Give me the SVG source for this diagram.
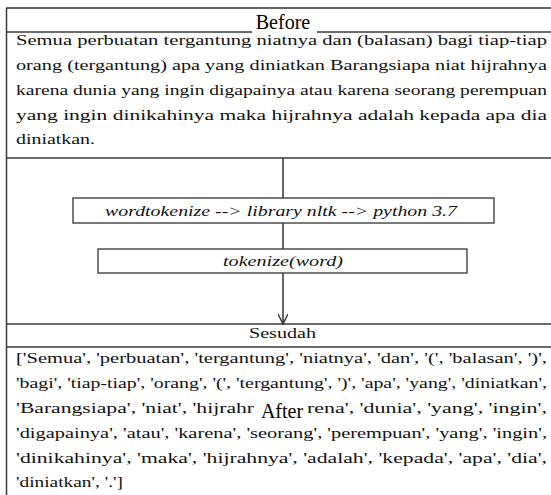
<svg xmlns="http://www.w3.org/2000/svg" width="551" height="495" viewBox="0 0 551 495">
<style>
.rule{stroke:#3a3a3a;stroke-width:1.5;fill:none}
.box{fill:#fff;stroke:#333;stroke-width:1.3}
.body{font-family:"Liberation Serif","Times New Roman",serif;font-size:15px;fill:#111}
.it{font-family:"Liberation Serif","Times New Roman",serif;font-size:15px;font-style:italic;fill:#111}
.lbl{font-family:"Liberation Serif","Times New Roman",serif;font-size:20px;fill:#000}
.conn{stroke:#333;stroke-width:1.5;fill:none}
</style>
<defs>
<marker id="arr" viewBox="0 0 12 10" refX="11" refY="5" markerWidth="12" markerHeight="10" markerUnits="userSpaceOnUse" orient="auto">
<path d="M1,0 L11,5 L1,10" fill="none" stroke="#333" stroke-width="1.4"/>
</marker>
</defs>
<rect width="551" height="495" fill="#fff"/>

<g id="table-frame">
<line x1="6" y1="8" x2="551" y2="8" stroke="#666" stroke-width="2"/>
<line class="rule" x1="6.5" y1="8" x2="6.5" y2="495"/>
<line class="rule" x1="6" y1="32" x2="252" y2="32"/>
<line class="rule" x1="317" y1="32" x2="551" y2="32"/>
<line class="rule" x1="6" y1="158" x2="551" y2="158"/>
<line class="rule" x1="6" y1="324" x2="551" y2="324"/>
<line class="rule" x1="6" y1="347" x2="551" y2="347"/>
</g>

<g id="before-label">
<text class="lbl" x="283" y="29" text-anchor="middle">Before</text>
</g>

<g id="before-text">
<text class="body" x="16" y="45" textLength="531" lengthAdjust="spacingAndGlyphs">Semua perbuatan tergantung niatnya dan (balasan) bagi tiap-tiap</text>
<text class="body" x="16" y="70" textLength="531" lengthAdjust="spacingAndGlyphs">orang (tergantung) apa yang diniatkan Barangsiapa niat hijrahnya</text>
<text class="body" x="16" y="95" textLength="531" lengthAdjust="spacingAndGlyphs">karena dunia yang ingin digapainya atau karena seorang perempuan</text>
<text class="body" x="16" y="119.5" textLength="531" lengthAdjust="spacingAndGlyphs">yang ingin dinikahinya maka hijrahnya adalah kepada apa dia</text>
<text class="body" x="16" y="144" textLength="79" lengthAdjust="spacingAndGlyphs">diniatkan.</text>
</g>

<g id="connectors">
<line class="conn" x1="283" y1="158" x2="283" y2="198"/>
<line class="conn" x1="283" y1="223" x2="283" y2="249"/>
<line class="conn" x1="283" y1="273" x2="283" y2="324" marker-end="url(#arr)"/>
</g>

<g id="node-wordtokenize">
<rect class="box" x="73" y="198" width="421" height="25"/>
<text class="it" x="105" y="215.5" textLength="352" lengthAdjust="spacingAndGlyphs">wordtokenize --&gt; library nltk --&gt; python 3.7</text>
</g>

<g id="node-tokenize">
<rect class="box" x="98" y="249" width="369" height="24"/>
<text class="it" x="223" y="266" textLength="120" lengthAdjust="spacingAndGlyphs">tokenize(word)</text>
</g>

<g id="sesudah-header">
<text class="body" x="249" y="337.5" textLength="67" lengthAdjust="spacingAndGlyphs">Sesudah</text>
</g>

<g id="after-text">
<text class="body" x="16" y="362.5" textLength="531" lengthAdjust="spacingAndGlyphs">['Semua', 'perbuatan', 'tergantung', 'niatnya', 'dan', '(', 'balasan', ')',</text>
<text class="body" x="16" y="387.5" textLength="531" lengthAdjust="spacingAndGlyphs">'bagi', 'tiap-tiap', 'orang', '(', 'tergantung', ')', 'apa', 'yang', 'diniatkan',</text>
<text class="body" x="16" y="412.5" textLength="238" lengthAdjust="spacingAndGlyphs">'Barangsiapa', 'niat', 'hijrahr</text>
<text class="body" x="307" y="412.5" textLength="240" lengthAdjust="spacingAndGlyphs">rena', 'dunia', 'yang', 'ingin',</text>
<text class="body" x="16" y="437.5" textLength="531" lengthAdjust="spacingAndGlyphs">'digapainya', 'atau', 'karena', 'seorang', 'perempuan', 'yang', 'ingin',</text>
<text class="body" x="16" y="462.5" textLength="531" lengthAdjust="spacingAndGlyphs">'dinikahinya', 'maka', 'hijrahnya', 'adalah', 'kepada', 'apa', 'dia',</text>
<text class="body" x="16" y="487" textLength="107" lengthAdjust="spacingAndGlyphs">'diniatkan', '.']</text>
</g>

<g id="after-label">
<text class="lbl" x="282" y="418" text-anchor="middle">After</text>
</g>
</svg>
